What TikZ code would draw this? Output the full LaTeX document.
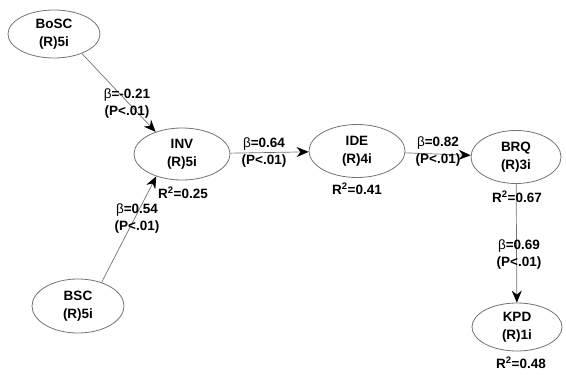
\documentclass[tikz,border=0pt]{standalone}
\usepackage{fontspec}
\setmainfont{Liberation Sans}
\usetikzlibrary{shapes.geometric,arrows.meta}
\newcommand{\bet}{{\mdseries β}}
\begin{document}
\begin{tikzpicture}[x=1pt,y=-1pt,
  lv/.style={ellipse,draw=black!55,line width=0.8pt,inner sep=0pt,align=center,
    font=\bfseries\fontsize{13.5}{18}\selectfont},
  lbl/.style={align=center,inner sep=0pt,font=\bfseries\fontsize{13.5}{17}\selectfont},
  edge/.style={draw=black!55,line width=0.7pt,-{Stealth[length=12pt,width=10pt,inset=4pt,fill=black,color=black]}}]
\useasboundingbox (0,0) rectangle (566,375);
\node[lv,minimum width=92pt,minimum height=48pt] (BoSC) at (54,34) {BoSC\\(R)5i};
\node[lv,minimum width=96pt,minimum height=52pt] (INV) at (182,154) {INV\\(R)5i};
\node[lv,minimum width=96pt,minimum height=53pt] (IDE) at (357,151) {IDE\\(R)4i};
\node[lv,minimum width=90pt,minimum height=53pt] (BRQ) at (516,157) {BRQ\\(R)3i};
\node[lv,minimum width=90pt,minimum height=48pt] (KPD) at (517,327) {KPD\\(R)1i};
\node[lv,minimum width=92pt,minimum height=54pt] (BSC) at (78,306) {BSC\\(R)5i};

\draw[edge] (BoSC.-35) -- (INV.140);
\draw[edge] (BSC.45) -- (INV.221);
\draw[edge] (INV) -- (IDE);
\draw[edge] (IDE) -- (BRQ);
\draw[edge] (BRQ) -- (KPD);

\node[lbl] (l1) at (127,104) {\bet=-0.21\\(P<.01)};
\node[lbl] (l2) at (264,153) {\bet=0.64\\(P<.01)};
\node[lbl] (l3) at (438,152) {\bet=0.82\\(P<.01)};
\node[lbl] (l4) at (519,255) {\bet=0.69\\(P<.01)};
\node[lbl] (l5) at (137,219) {\bet=0.54\\(P<.01)};

\node[lbl] (r1) at (183,193) {R\textsuperscript{2}=0.25};
\node[lbl] (r2) at (357,189) {R\textsuperscript{2}=0.41};
\node[lbl] (r3) at (517,197) {R\textsuperscript{2}=0.67};
\node[lbl] (r4) at (521,363) {R\textsuperscript{2}=0.48};
\end{tikzpicture}
\end{document}
